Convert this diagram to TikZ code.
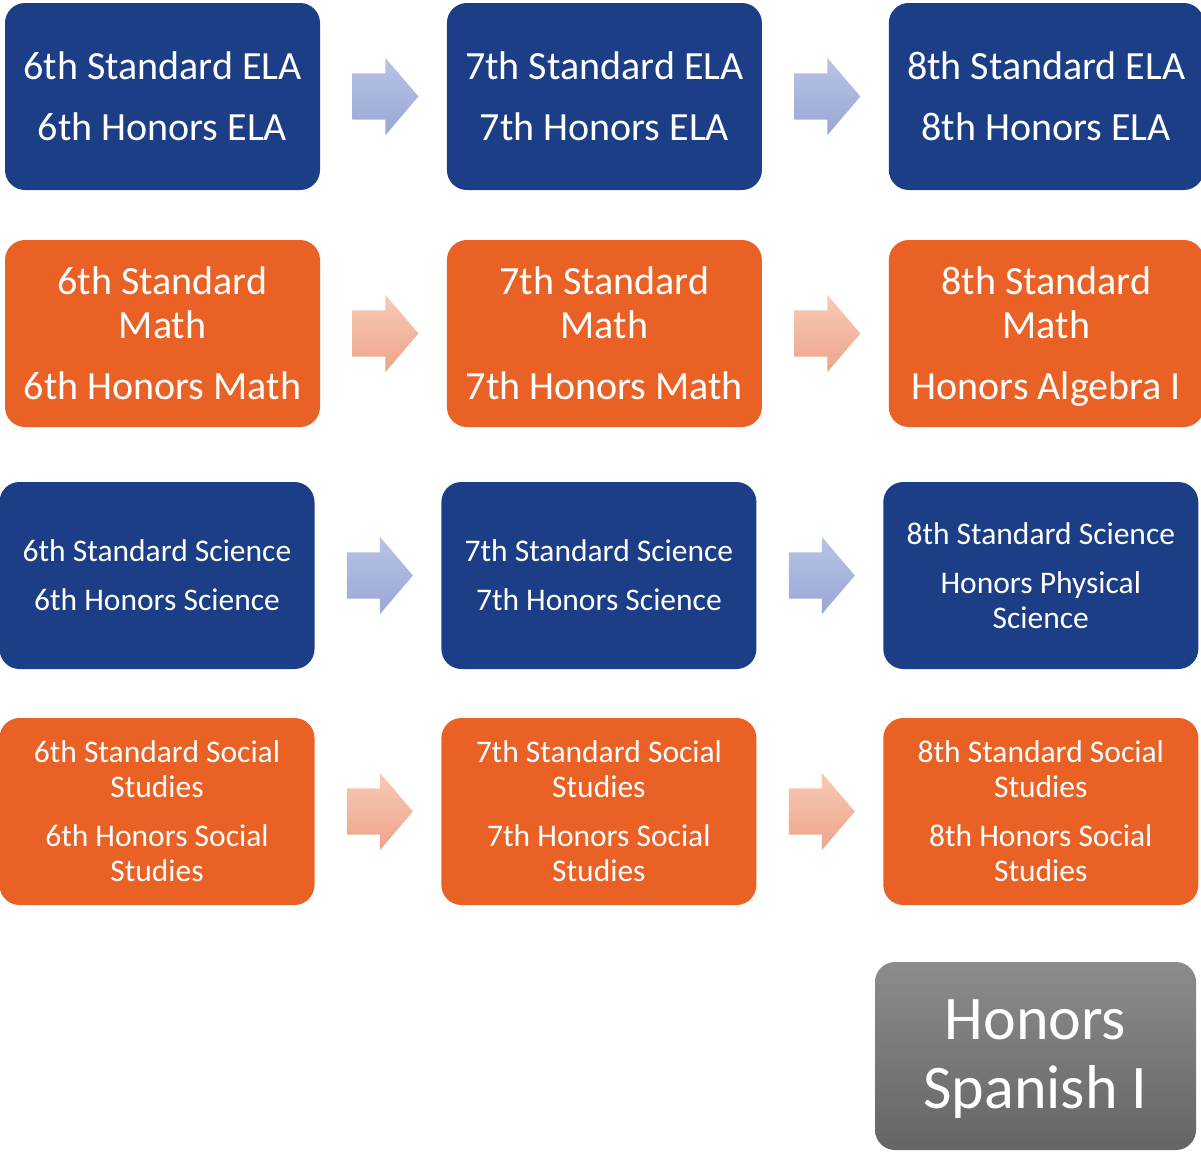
\documentclass[tikz,border=0pt]{standalone}
\usepackage{fontspec}
\setmainfont{Carlito}
\usepackage{tikz}
\usetikzlibrary{shapes.arrows, positioning, calc}
\definecolor{boxblue}{HTML}{1C3E86}
\definecolor{boxorange}{HTML}{E96125}
\definecolor{graytop}{HTML}{8C8C8C}
\definecolor{graybot}{HTML}{656565}
\definecolor{bluetop}{HTML}{B8C3E5}
\definecolor{bluebot}{HTML}{9AA7D5}
\definecolor{orangetop}{HTML}{F8CAB6}
\definecolor{orangebot}{HTML}{EDA48A}
\tikzset{
  course/.style={
    rectangle, rounded corners=20pt,
    minimum width=315pt, minimum height=187pt,
    inner sep=0pt, align=center, text=white,
  },
  bluebox/.style={course, fill=boxblue},
  orangebox/.style={course, fill=boxorange},
  bigtext/.style={font=\fontsize{40}{44}\selectfont},
  smalltext/.style={font=\fontsize{31.5}{35}\selectfont},
  spanishbox/.style={
    course, minimum width=321pt, minimum height=188pt,
    top color=graytop, bottom color=graybot,
    font=\fontsize{62}{69}\selectfont, text depth=4pt,
  },
  blockarrow/.style={
    single arrow, inner xsep=0pt, inner ysep=23pt,
    minimum height=66pt,
    single arrow head extend=15.5pt, single arrow tip angle=99,
  },
  bluearrow/.style={blockarrow, top color=bluetop, bottom color=bluebot},
  orangearrow/.style={blockarrow, top color=orangetop, bottom color=orangebot},
}

\begin{document}
\begin{tikzpicture}[x=1pt, y=-1pt, node distance=126.5pt]
  \path[use as bounding box, fill=white] (0,0) rectangle (1201,1151);
  % ELA
  \node[bluebox,bigtext] (ela6) at (162.5,96.5) {6th Standard ELA\\[17pt]6th Honors ELA};
  \node[bluebox,bigtext,right=of ela6] (ela7) {7th Standard ELA\\[17pt]7th Honors ELA};
  \node[bluebox,bigtext,right=of ela7] (ela8) {8th Standard ELA\\[17pt]8th Honors ELA};
  % Math
  \node[orangebox,bigtext] (math6) at (162.5,333.5) {6th Standard\\Math\\[17pt]6th Honors Math};
  \node[orangebox,bigtext,right=of math6] (math7) {7th Standard\\Math\\[17pt]7th Honors Math};
  \node[orangebox,bigtext,right=of math7,text depth=0pt] (math8) {8th Standard\\Math\\[17pt]Honors Algebra I};
  % Science
  \node[bluebox,smalltext] (sci6) at (157,575.5) {6th Standard Science\\[14pt]6th Honors Science};
  \node[bluebox,smalltext,right=of sci6] (sci7) {7th Standard Science\\[14pt]7th Honors Science};
  \node[bluebox,smalltext,right=of sci7] (sci8) {8th Standard Science\\[14pt]Honors Physical\\Science};
  % Social Studies
  \node[orangebox,smalltext] (soc6) at (157,811.5) {6th Standard Social\\Studies\\[14pt]6th Honors Social\\Studies};
  \node[orangebox,smalltext,right=of soc6] (soc7) {7th Standard Social\\Studies\\[14pt]7th Honors Social\\Studies};
  \node[orangebox,smalltext,right=of soc7] (soc8) {8th Standard Social\\Studies\\[14pt]8th Honors Social\\Studies};
  % Spanish
  \node[spanishbox] (spanish) at (1035.5,1056) {Honors\\Spanish I};
  % arrows between grades
  \node[bluearrow,right=32pt of ela6] (ela67) {};
  \node[bluearrow,right=32pt of ela7] (ela78) {};
  \node[orangearrow,right=32pt of math6] (math67) {};
  \node[orangearrow,right=32pt of math7] (math78) {};
  \node[bluearrow,right=32pt of sci6] (sci67) {};
  \node[bluearrow,right=32pt of sci7] (sci78) {};
  \node[orangearrow,right=32pt of soc6] (soc67) {};
  \node[orangearrow,right=32pt of soc7] (soc78) {};
\end{tikzpicture}
\end{document}
